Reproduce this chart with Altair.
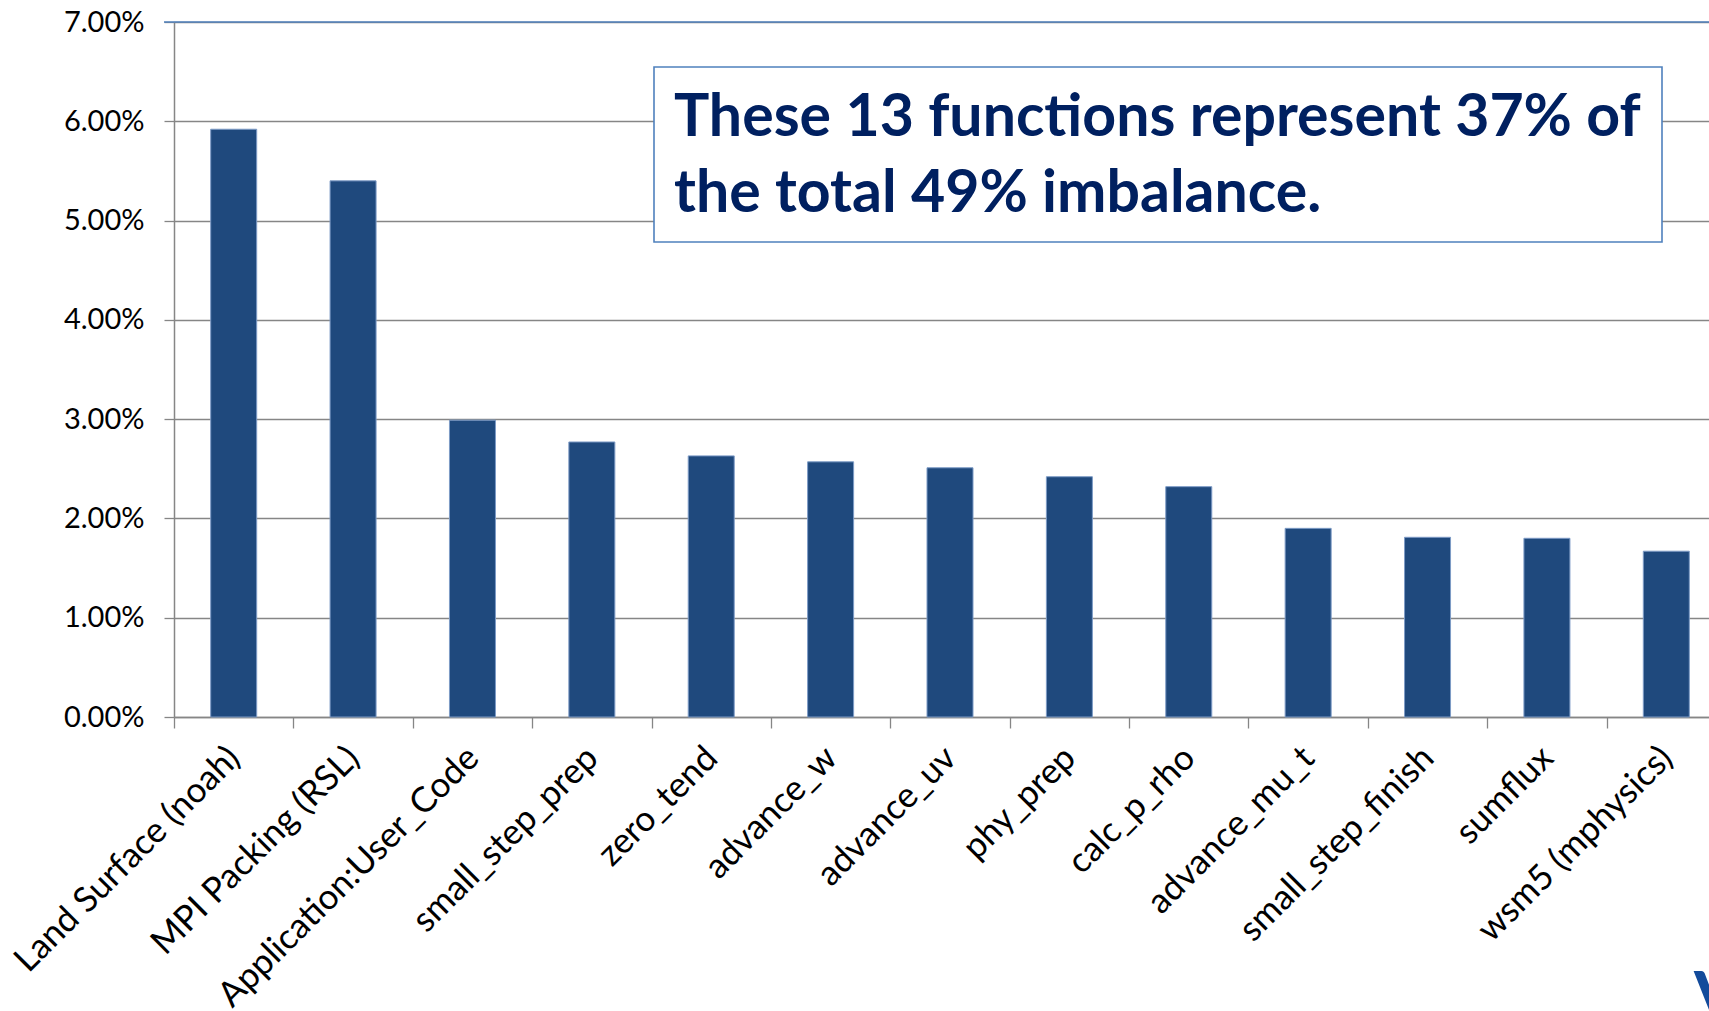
import altair as alt
import pandas as pd

# Functions contributing to load imbalance, in chart order
functions = [
    "Land Surface (noah)",
    "MPI Packing (RSL)",
    "Application:User_Code",
    "small_step_prep",
    "zero_tend",
    "advance_w",
    "advance_uv",
    "phy_prep",
    "calc_p_rho",
    "advance_mu_t",
    "small_step_finish",
    "sumflux",
    "wsm5 (mphysics)",
]
# Share of total imbalance for each function (fraction)
imbalance = [0.0592, 0.0540, 0.0299, 0.0277, 0.0263, 0.0257, 0.0251,
             0.0242, 0.0232, 0.0190, 0.0181, 0.0180, 0.0167]
y_ticks = [0.0, 0.01, 0.02, 0.03, 0.04, 0.05, 0.06, 0.07]
note_lines = ["These 13 functions represent 37% of", "the total 49% imbalance."]

df = pd.DataFrame({"function": functions, "imbalance": imbalance})
one = pd.DataFrame({"k": [0]})

PLOT_W = 1535      # visible plot width
BAND_RANGE = 1552  # full category range (last band runs past the edge)
PLOT_H = 695
GRAY = "#868686"
FONT = "Lato"

bars = alt.Chart(df).mark_bar(
    width=46, color="#1f497d", stroke="#7d9bc6", strokeWidth=1
).encode(
    x=alt.X(
        "function:N",
        sort=None,
        scale=alt.Scale(range=[0, BAND_RANGE], paddingInner=0, paddingOuter=0),
        axis=alt.Axis(
            title=None,
            labelAngle=-45,
            labelAlign="right",
            labelBaseline="middle",
            labelPadding=24,
            labelFont=FONT,
            labelFontSize=35,
            labelColor="#000000",
            labelLimit=0,
            labelOverlap=False,
            tickBand="extent",
            tickSize=11,
            tickColor=GRAY,
            tickWidth=1.3,
            domainColor=GRAY,
            domainWidth=1.5,
            grid=False,
        ),
    ),
    y=alt.Y(
        "imbalance:Q",
        scale=alt.Scale(domain=[0, 0.07], nice=False),
        axis=alt.Axis(
            title=None,
            values=y_ticks,
            format=".2%",
            labelFont=FONT,
            labelFontSize=29,
            labelColor="#000000",
            labelPadding=20,
            tickSize=10,
            tickColor=GRAY,
            tickWidth=1.3,
            domainColor=GRAY,
            domainWidth=1.5,
            grid=True,
            gridColor=GRAY,
            gridWidth=1.3,
        ),
    ),
)

# Blue border line along the top of the plot
top_line = alt.Chart(one).mark_rule(color="#4f81bd", strokeWidth=1.6).encode(
    y=alt.datum(0.07),
    x=alt.value(-10),
    x2=alt.value(PLOT_W),
)

# Annotation box
box = alt.Chart(one).mark_rect(
    fill="white", stroke="#4f81bd", strokeWidth=1.6
).encode(
    x=alt.value(480), x2=alt.value(1488),
    y=alt.value(45), y2=alt.value(220),
)

note = alt.Chart(one).mark_text(
    align="left", baseline="alphabetic", font=FONT, fontWeight="bold",
    fontSize=59, lineHeight=75.7, color="#002060",
).encode(
    x=alt.value(500), y=alt.value(114), text=alt.value(note_lines),
)

# Corner of the logo at the bottom right
logo = alt.Chart(one).mark_text(
    align="left", baseline="alphabetic", font=FONT, fontWeight="bold",
    fontSize=72, color="#134b9b",
).encode(
    x=alt.value(1520), y=alt.value(1002), text=alt.value("V"),
)

chart = alt.layer(bars, top_line, box, note, logo).properties(
    width=PLOT_W,
    height=PLOT_H,
    autosize=alt.AutoSizeParams(type="none"),
    padding={"left": 174, "top": 22, "right": 0, "bottom": 294},
).configure_view(stroke=None).configure(background="white")

chart.save("out.html", embed_options={"renderer": "svg", "actions": False})
